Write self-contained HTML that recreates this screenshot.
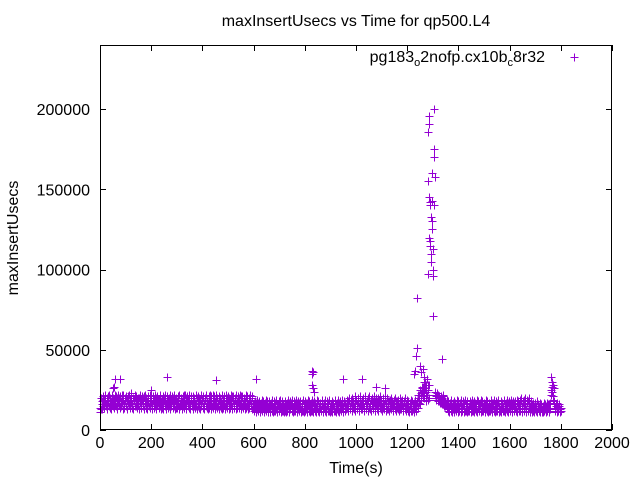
<!DOCTYPE html>
<html><head><meta charset="utf-8"><style>
html,body{margin:0;padding:0;background:#fff;}
svg{display:block;font-family:"Liberation Sans",sans-serif;}
</style></head><body>
<svg id="chart" width="640" height="480" viewBox="0 0 640 480" xmlns="http://www.w3.org/2000/svg">
<rect x="0" y="0" width="640" height="480" fill="#fff"/>
<text x="356" y="26" font-size="16" text-anchor="middle">maxInsertUsecs vs Time for qp500.L4</text>
<text x="0" y="0" font-size="16" text-anchor="middle" transform="translate(18,238) rotate(-90)">maxInsertUsecs</text>
<text x="356" y="473" font-size="16" text-anchor="middle">Time(s)</text>
<g id="ticks"></g>
<g id="points"></g>
<rect x="100.5" y="45.5" width="511" height="384" fill="none" stroke="#000" stroke-width="1"/>
<g>
<text x="545" y="62" font-size="16" text-anchor="end">pg183<tspan font-size="11" dy="4">o</tspan><tspan dy="-4">2nofp.cx10b</tspan><tspan font-size="11" dy="4">c</tspan><tspan dy="-4">8r32</tspan></text>
<path d="M570.5 57.5h8M574.5 53.5v8" stroke="#9400d3" stroke-width="1"/>
</g>
</svg>
<script>
const xTicks = [0,200,400,600,800,1000,1200,1400,1600,1800,2000];
const yTicks = [0,50000,100000,150000,200000];
const xMin = 0, xMax = 2000, yMin = 0, yMax = 240000;
const stepSeconds = 3;
// base band values, thousands of usecs, one every 3 s starting at t=0
const baseK = [
11,13,16,18,15,19,17,20,16,18,21,17,15,19,18,16,22,17,19,16,
18,21,16,19,17,20,15,18,22,17,19,16,20,18,15,19,17,21,16,18,
17,19,16,20,18,15,21,17,19,16,18,20,17,15,19,18,16,21,17,19,
16,18,20,17,15,19,22,17,16,18,19,15,17,20,16,18,17,19,15,18,
17,19,16,18,15,20,17,16,19,18,15,17,19,16,18,20,15,17,19,16,
18,16,19,15,17,20,16,18,15,19,17,16,20,18,15,17,19,16,18,21,
16,18,15,19,17,16,20,15,18,17,19,16,15,18,20,17,16,19,15,18,
17,15,19,16,18,21,15,17,19,16,18,15,20,17,16,19,15,18,17,16,
19,16,18,15,17,20,16,18,15,19,17,16,21,18,15,17,19,16,18,15,
17,19,16,18,21,15,17,19,16,18,20,15,17,16,19,18,15,17,20,16,
15,17,14,16,13,15,17,14,16,15,13,17,14,16,15,13,16,14,17,15,
14,16,13,15,17,14,12,16,15,13,14,16,15,13,17,14,15,12,16,14,
15,13,16,14,12,15,17,14,13,16,15,14,12,16,13,15,17,14,13,15,
14,16,13,15,12,14,16,15,13,17,14,15,13,16,14,12,15,17,14,16,
13,15,14,16,12,15,17,14,13,16,15,12,14,16,13,15,17,14,12,15,
14,16,13,15,17,14,12,16,15,13,14,17,15,13,16,14,12,15,17,14,
15,17,14,16,18,15,13,17,16,14,18,15,17,19,16,14,17,15,18,16,
17,15,18,16,14,19,17,15,16,18,14,17,15,19,16,18,15,17,14,16,
16,18,15,17,14,16,19,15,17,14,16,18,15,17,13,16,18,15,14,17,
15,17,14,16,13,15,18,14,16,15,13,17,14,16,15,13,17,14,16,15,
14,16,13,15,17,14,12,16,15,13,14,16,15,18,20,17,22,25,19,23,
27,21,25,30,24,18,22,28,20,null,null,null,null,null,null,null,22,21,19,22,
20,18,21,19,17,20,16,18,19,15,17,16,14,17,15,13,16,14,15,13,
14,16,13,15,12,14,16,15,13,17,14,15,13,16,14,12,15,16,14,13,
15,13,16,14,12,15,17,14,13,16,15,12,14,16,13,15,17,14,12,15,
14,16,13,15,17,14,12,16,15,13,14,17,15,13,16,14,12,15,17,14,
15,13,16,14,17,15,12,16,14,13,15,17,14,16,13,15,17,14,16,15,
14,16,13,17,15,12,16,14,18,15,13,17,14,16,15,13,17,18,14,16,
15,13,16,14,12,15,14,13,15,12,14,13,15,12,14,11,13,15,12,14,
13,15,12,14,13,16,14,22,27,24,19,16,14,12,15,13,14,12,15,13,
14];
// second sample per step, at t = i*3 + 1.5 s
const secondK = [
14,20,13,21,19,14,22,15,20,13,19,22,14,20,13,21,15,20,14,22,
15,20,13,22,16,14,21,15,20,13,22,14,19,21,15,13,20,22,14,19,
21,14,20,13,19,22,15,21,14,20,13,19,22,14,21,15,20,13,22,14,
20,13,21,15,22,14,19,13,21,20,14,22,15,13,21,19,14,20,22,13,
14,21,13,20,22,15,13,21,14,20,22,13,15,21,14,19,22,13,20,14,
14,21,13,22,15,19,13,21,20,14,22,13,15,21,19,14,22,13,20,15,
21,13,20,14,22,15,13,21,14,20,13,22,19,14,21,13,20,15,22,14,
13,21,14,20,13,15,22,14,21,13,20,22,14,15,21,13,20,14,22,13,
14,21,13,22,15,14,21,13,20,14,22,13,15,21,14,20,13,22,14,21,
20,14,22,13,15,21,14,20,13,22,14,21,13,20,14,22,15,13,21,14,
12,18,11,17,19,12,16,18,11,17,19,12,18,11,17,12,19,18,11,16,
18,11,17,12,19,11,18,12,17,19,11,16,18,12,19,11,17,18,12,11,
12,18,11,17,19,12,11,18,17,12,19,11,18,12,17,19,11,18,12,17,
18,11,17,12,19,11,18,12,17,11,19,12,18,11,17,19,12,11,18,12,
17,11,19,12,18,11,17,12,19,18,11,17,12,19,11,18,12,17,19,11,
12,18,11,17,12,19,18,11,17,12,19,11,18,12,17,19,11,18,12,17,
13,19,12,18,20,13,19,12,20,18,13,21,12,19,13,20,18,12,21,13,
19,13,20,12,21,19,13,18,20,12,21,13,19,12,20,13,21,18,12,20,
13,20,12,19,21,13,18,12,20,13,19,21,12,20,18,13,12,19,20,13,
18,12,19,13,20,12,18,19,13,12,20,18,13,19,12,18,13,20,12,19,
12,18,11,17,19,12,18,13,17,11,19,12,17,14,22,19,16,23,21,27,
24,30,20,26,22,32,19,25,28,null,null,null,null,null,null,null,24,20,23,18,
22,19,17,21,18,16,19,17,15,18,16,19,12,18,11,17,12,19,11,17,
18,11,17,12,19,11,18,12,17,11,19,12,18,11,17,19,12,11,18,12,
12,18,11,17,19,12,11,18,17,12,19,11,18,12,17,19,11,18,12,17,
17,11,19,12,18,11,17,12,19,18,11,17,12,19,11,18,12,17,19,11,
12,18,11,17,12,19,18,11,17,12,19,11,18,12,17,19,11,18,12,17,
18,12,19,11,18,13,19,12,20,11,18,19,12,20,11,18,19,12,20,11,
12,18,11,17,13,11,17,12,18,11,16,12,17,11,16,12,11,17,12,16,
11,17,12,16,11,17,13,25,30,21,26,18,12,16,11,17,12,16,11,12,
12];
const outlierTimes = [1237,1240,1236,1232,1228,1250,1255,1262,1265,1268,1272,1258,1275,1280,1282,1283,1284,1285,1287,1288,1289,1290,1291,1292,1293,1294,1295,1296,1297,1298,1300,1302,1303,1304,1305,1306,1307,1299,1301,1286,1335,1338,1340,60,80,55,50,200,260,455,610,828,832,830,828,832,835,950,1025,1080,1115,1762,1765,1768,120,430,330];
const outlierK = [82,51,46,37,35,40,36,38,33,30,28,26,25,155,97,186,191,196,145,142,140,118,115,110,105,133,130,125,160,143,71,96,170,175,200,140,158,113,100,120,44,22,21,32,32,27,26,25,33,31,32,37,36,35,28,26,24,32,32,27,26,33,30,28,23,22,22];

const L=100,R=612,T=45,B=430;
function sx(v){return L+(v-xMin)/(xMax-xMin)*(R-L);}
function sy(v){return B-(v-yMin)/(yMax-yMin)*(B-T);}
const NS="http://www.w3.org/2000/svg";
const tg=document.getElementById('ticks');
xTicks.forEach(function(t){
  const x=Math.round(sx(t))+0.5;
  const p=document.createElementNS(NS,'path');
  p.setAttribute('d','M'+x+' '+B+'v-6M'+x+' '+T+'v6');
  p.setAttribute('stroke','#000');
  
  
  tg.appendChild(p);
  const tx=document.createElementNS(NS,'text');
  tx.setAttribute('x',sx(t));tx.setAttribute('y',B+18);
  tx.setAttribute('font-size','16');tx.setAttribute('text-anchor','middle');
  
  
  tx.textContent=t;tg.appendChild(tx);
});
yTicks.forEach(function(t){
  const y=Math.round(sy(t))+0.5;
  const p=document.createElementNS(NS,'path');
  p.setAttribute('d','M'+L+' '+y+'h6M'+R+' '+y+'h-6');
  p.setAttribute('stroke','#000');
  
  
  tg.appendChild(p);
  const tx=document.createElementNS(NS,'text');
  tx.setAttribute('x',L-10);tx.setAttribute('y',sy(t)+6);
  tx.setAttribute('font-size','16');tx.setAttribute('text-anchor','end');
  
  
  tx.textContent=t;tg.appendChild(tx);
});
let d='';
function plus(t,v){const x=Math.round(sx(t))+0.5,y=Math.round(sy(v))+0.5;d+='M'+(x-4)+' '+y+'h8M'+x+' '+(y-4)+'v8';}
baseK.forEach(function(v,i){if(v!==null)plus(i*stepSeconds,v*1000);});
secondK.forEach(function(v,i){if(v!==null)plus(i*stepSeconds+stepSeconds/2,v*1000);});
outlierTimes.forEach(function(t,i){plus(t,outlierK[i]*1000);});
const pp=document.createElementNS(NS,'path');
pp.setAttribute('d',d);pp.setAttribute('stroke','#9400d3');pp.setAttribute('stroke-width','1');pp.setAttribute('fill','none');


document.getElementById('points').appendChild(pp);
</script>
</body></html>
